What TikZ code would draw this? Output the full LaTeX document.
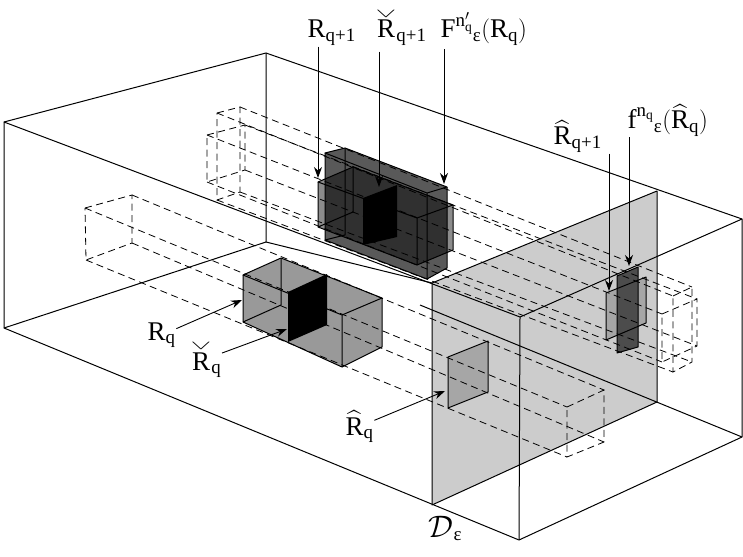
\documentclass[tikz,border=0pt]{standalone}
\usepackage{amsmath}
\usepackage{graphicx}
\usepackage{fontspec}
\setmainfont{Liberation Serif}
\usetikzlibrary{arrows.meta}

\newcommand{\chkR}{\overset{\raisebox{-6pt}{\scalebox{1.25}[0.5]{$\vee$}}}{\text{R}}}

\tikzset{
  edge/.style={line width=1pt, line join=round},
  tube/.style={line width=0.8pt, dash pattern=on 7pt off 4.5pt},
  lbl/.style={inner sep=0.5pt, font=\fontsize{27}{32}\selectfont},
  arr/.style={line width=0.9pt, -{Stealth[length=11pt,width=8pt]}},
}

\begin{document}
\begin{tikzpicture}[x=1pt,y=-1pt]
  \useasboundingbox (0,0) rectangle (743,556);

  \fill[black!20] (432,283) -- (657,191) -- (657,402) -- (432,505) -- cycle; % plane D_eps

  % outer box
  \draw[edge] (4,122) -- (266,53) -- (742,219) -- (742,437) -- (519,540) -- (4,328) -- cycle;
  \draw[edge] (4,122) -- (520,317) -- (742,219);
  \draw[edge] (520,317) -- (519,540);
  \draw[edge] (266,53) -- (266,242) -- (4,328);
  \draw[edge] (266,242) -- (432,283);
  \draw[edge] (420,305) -- (742,437);
  \draw[edge] (432,283) -- (657,191) -- (657,402) -- (432,505) -- cycle; % plane D_eps

  % boxes and plates
  \fill[black!40] (243,275) -- (281,258) -- (382,298) -- (382,347) -- (342,367) -- (243,322) -- cycle; % R_q
  \fill[black!45] (318,182) -- (353,167) -- (453,205) -- (453,250) -- (417,265) -- (318,227) -- cycle; % R_q+1
  \fill[black, opacity=.65] (325,153) -- (345,148) -- (447,187) -- (447,268) -- (427,279) -- (325,240) -- cycle; % F(R_q)
  \fill[black!35] (448,357) -- (488,341) -- (488,392) -- (448,408) -- cycle; % hat R_q
  \fill[black!35] (606,293) -- (646,277) -- (646,323) -- (606,340) -- cycle; % hat R_q+1
  \fill[black!70] (617,276) -- (638,267) -- (638,347) -- (617,353) -- cycle; % f(hat R_q)

  % lower tube
  \draw[tube] (85,208) -- (132,195) -- (132,243) -- (86,260) -- cycle;
  \draw[tube] (567,407) -- (604,390) -- (604,442) -- (567,457) -- cycle;
  \draw[tube] (85,208) -- (567,407) (132,195) -- (604,390) (132,243) -- (604,442) (86,260) -- (567,457);

  % upper tube, R_q+1
  \draw[tube] (207,135) -- (245,125) -- (245,170) -- (207,182) -- cycle;
  \draw[tube] (662,314) -- (697,299) -- (697,346) -- (662,362) -- cycle;
  \draw[tube] (207,135) -- (662,314) (245,125) -- (697,299) (245,170) -- (697,346) (207,182) -- (662,362);

  % upper tube, F(R_q)
  \draw[tube] (217,113) -- (240,107) -- (240,192) -- (217,200) -- cycle;
  \draw[tube] (673,296) -- (692,287) -- (692,362) -- (673,372) -- cycle;
  \draw[tube] (217,113) -- (673,296) (240,107) -- (692,287) (240,192) -- (692,362) (217,200) -- (673,372);

  \fill (288,292) -- (327,274) -- (327,325) -- (288,342) -- cycle; % check R_q
  \fill (363,198) -- (397,185) -- (397,237) -- (363,245) -- cycle; % check R_q+1

  % edges R_q
  \draw[edge] (243,275) -- (281,258) -- (382,298) -- (342,315) -- cycle;
  \draw[edge] (243,275) -- (243,322) -- (342,367) -- (342,315);
  \draw[edge] (342,367) -- (382,347) -- (382,298);
  \draw[edge] (281,258) -- (281,305) -- (243,322);
  % edges R_q+1
  \draw[edge] (318,182) -- (353,167) -- (453,205) -- (417,218) -- cycle;
  \draw[edge] (318,182) -- (318,227) -- (417,265) -- (417,218);
  \draw[edge] (417,265) -- (453,250) -- (453,205);
  \draw[edge] (353,167) -- (353,212) -- (318,227);
  % edges F(R_q)
  \draw[edge] (325,153) -- (345,148) -- (447,187) -- (427,193) -- cycle;
  \draw[edge] (325,153) -- (325,240) -- (427,279) -- (427,193);
  \draw[edge] (427,279) -- (447,268) -- (447,187);
  \draw[edge] (345,148) -- (345,235) -- (325,240);
  % edges plates
  \draw[edge] (448,357) -- (488,341) -- (488,392) -- (448,408) -- cycle;
  \draw[edge] (606,293) -- (646,277) -- (646,323) -- (606,340) -- cycle;
  \draw[edge] (617,276) -- (638,267) -- (638,347) -- (617,353) -- cycle;

  % arrow targets
  \coordinate (tRq1) at (318,178);
  \coordinate (tRcq1) at (379,187);
  \coordinate (tF) at (444,184);
  \coordinate (tRhq1) at (609,291);
  \coordinate (tf) at (629,266);
  \coordinate (tRq) at (242,300);
  \coordinate (tRcq) at (287,329);
  \coordinate (tRhq) at (445,391);

  % labels
  \node[lbl, anchor=base west] (lRq1) at (307,38) {$\text{R}_{\text{q+1}}$};
  \node[lbl, anchor=base west] (lRcq1) at (375,38) {$\chkR_{\text{q+1}}$};
  \node[lbl, anchor=base west] (lF) at (440,38) {$\text{F}^{\text{n}'_{\text{q}}}{}_{\text{ε}}(\text{R}_{\text{q}})$};
  \node[lbl, anchor=base west] (lRhq1) at (553,145) {$\widehat{\text{R}}_{\text{q+1}}$};
  \node[lbl, anchor=base west] (lf) at (627,129) {$\text{f}^{\text{n}_{\text{q}}}{}_{\text{ε}}(\widehat{\text{R}}_{\text{q}})$};
  \node[lbl, anchor=base west] (lRq) at (147,340) {$\text{R}_{\text{q}}$};
  \node[lbl, anchor=base west] (lRcq) at (190,370) {$\chkR_{\text{q}}$};
  \node[lbl, anchor=base west] (lRhq) at (345,435) {$\widehat{\text{R}}_{\text{q}}$};
  \node[lbl, anchor=base west] (lD) at (428,537) {$\scalebox{1.25}{$\mathcal{D}$}_{\text{ε}}$};

  % arrows
  \draw[arr] (tRq1 |- lRq1.south) -- (tRq1);
  \draw[arr] ([yshift=-5pt]tRcq1 |- lRcq1.south) -- (tRcq1);
  \draw[arr] ([yshift=-3pt]tF |- lF.south) -- (tF);
  \draw[arr] (tRhq1 |- lRhq1.south) -- (tRhq1);
  \draw[arr] (tf |- lf.south) -- (tf);
  \draw[arr] (lRq) -- (tRq);
  \draw[arr] (lRcq) -- (tRcq);
  \draw[arr] (lRhq) -- (tRhq);
\end{tikzpicture}
\end{document}
